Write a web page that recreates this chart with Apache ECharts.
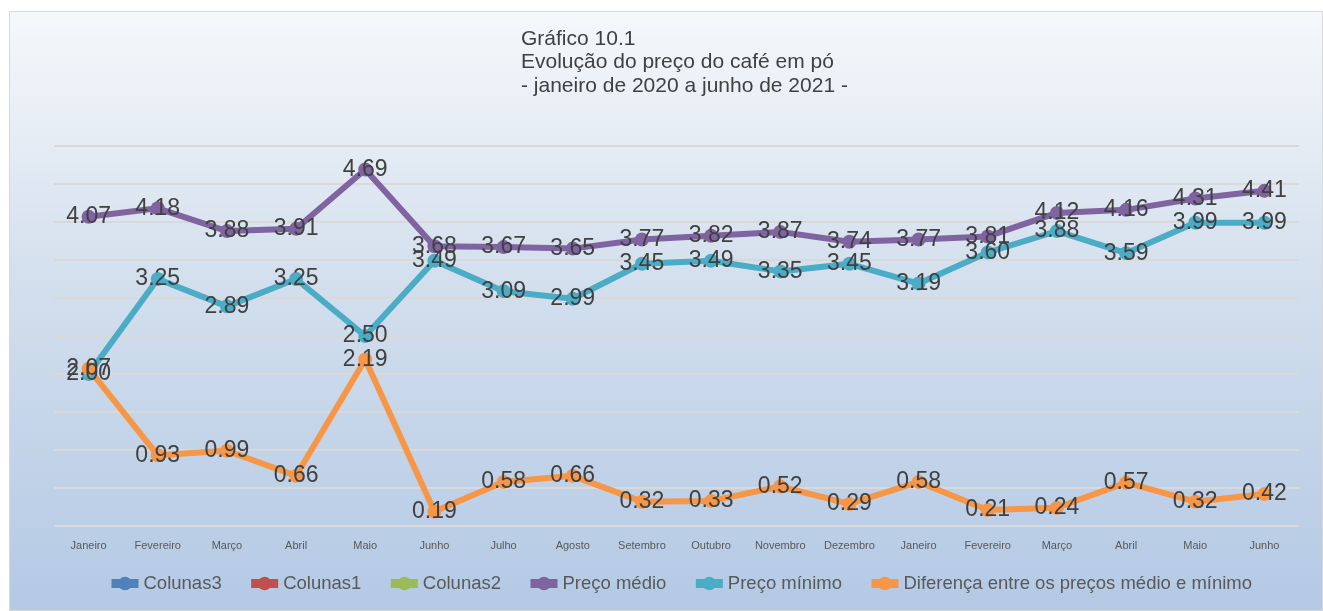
<!DOCTYPE html>
<html>
<head>
<meta charset="utf-8">
<script src="https://cdn.jsdelivr.net/npm/echarts@6/dist/echarts.min.js"></script>
<style>
 body{margin:0;background:#fff;}
 #chart{position:absolute;left:9px;top:11px;width:1312px;height:598px;border:1px solid #d9d9d9;}
</style>
</head>
<body>
<div id="chart"></div>
<script>
var meses = ["Janeiro","Fevereiro","Março","Abril","Maio","Junho","Julho","Agosto","Setembro","Outubro","Novembro","Dezembro","Janeiro","Fevereiro","Março","Abril","Maio","Junho"];
var precoMedio = [4.07,4.18,3.88,3.91,4.69,3.68,3.67,3.65,3.77,3.82,3.87,3.74,3.77,3.81,4.12,4.16,4.31,4.41];
var precoMinimo = [2.00,3.25,2.89,3.25,2.50,3.49,3.09,2.99,3.45,3.49,3.35,3.45,3.19,3.60,3.88,3.59,3.99,3.99];
var diferenca = [2.07,0.93,0.99,0.66,2.19,0.19,0.58,0.66,0.32,0.33,0.52,0.29,0.58,0.21,0.24,0.57,0.32,0.42];

var fonte = "Liberation Sans, Arial, sans-serif";

function serie(nome, cor, dados){
 return {
   name: nome,
   type: "line",
   data: dados,
   symbol: "circle",
   symbolSize: 14,
   itemStyle: {color: cor},
   lineStyle: {width: 6, color: cor},
   label: {
    show: dados.length > 0,
    position: "inside",
    fontSize: 23,
    fontFamily: fonte,
    color: "#404040",
    formatter: function(p){ return p.value.toFixed(2); }
   },
   emphasis: {disabled: true}
 };
}

var chart = echarts.init(document.getElementById("chart"));
var option = {
 animation: false,
 backgroundColor: {
   type: "linear", x: 0, y: 0, x2: 0, y2: 1,
   colorStops: [
    {offset: 0, color: "#f5f8fb"},
    {offset: 0.45, color: "#d3dfed"},
    {offset: 1, color: "#b3c9e4"}
   ]
 },
 title: {
   text: "Gráfico 10.1\nEvolução do preço do café em pó\n- janeiro de 2020 a junho de 2021 -",
   left: 506, top: 10,
   textStyle: {fontSize: 21, fontWeight: "normal", color: "#404040", fontFamily: fonte, lineHeight: 23.5}
 },
 legend: {
   bottom: 12, left: 92,
   itemWidth: 27, itemHeight: 17, itemGap: 25,
   lineStyle: {width: 9},
   textStyle: {fontSize: 18.5, color: "#595959", fontFamily: fonte},
   data: ["Colunas3","Colunas1","Colunas2","Preço médio","Preço mínimo","Diferença entre os preços médio e mínimo"]
 },
 grid: {left: 44, right: 23, top: 134, bottom: 84},
 xAxis: {
   type: "category",
   data: meses,
   axisLine: {show: false},
   axisTick: {show: false},
   axisLabel: {fontSize: 11, color: "#595959", fontFamily: fonte, margin: 14, interval: 0}
 },
 yAxis: {
   type: "value",
   min: 0, max: 5, interval: 0.5,
   axisLabel: {show: false},
   axisLine: {show: false},
   axisTick: {show: false},
   splitLine: {lineStyle: {color: "#d9d9d9", width: 2}}
 },
 series: [
   serie("Colunas3", "#4f81bd", []),
   serie("Colunas1", "#c0504d", []),
   serie("Colunas2", "#9bbb59", []),
   serie("Preço médio", "#8064a2", precoMedio),
   serie("Preço mínimo", "#4bacc6", precoMinimo),
   serie("Diferença entre os preços médio e mínimo", "#f79646", diferenca)
 ]
};
chart.setOption(option);
</script>
</body>
</html>
